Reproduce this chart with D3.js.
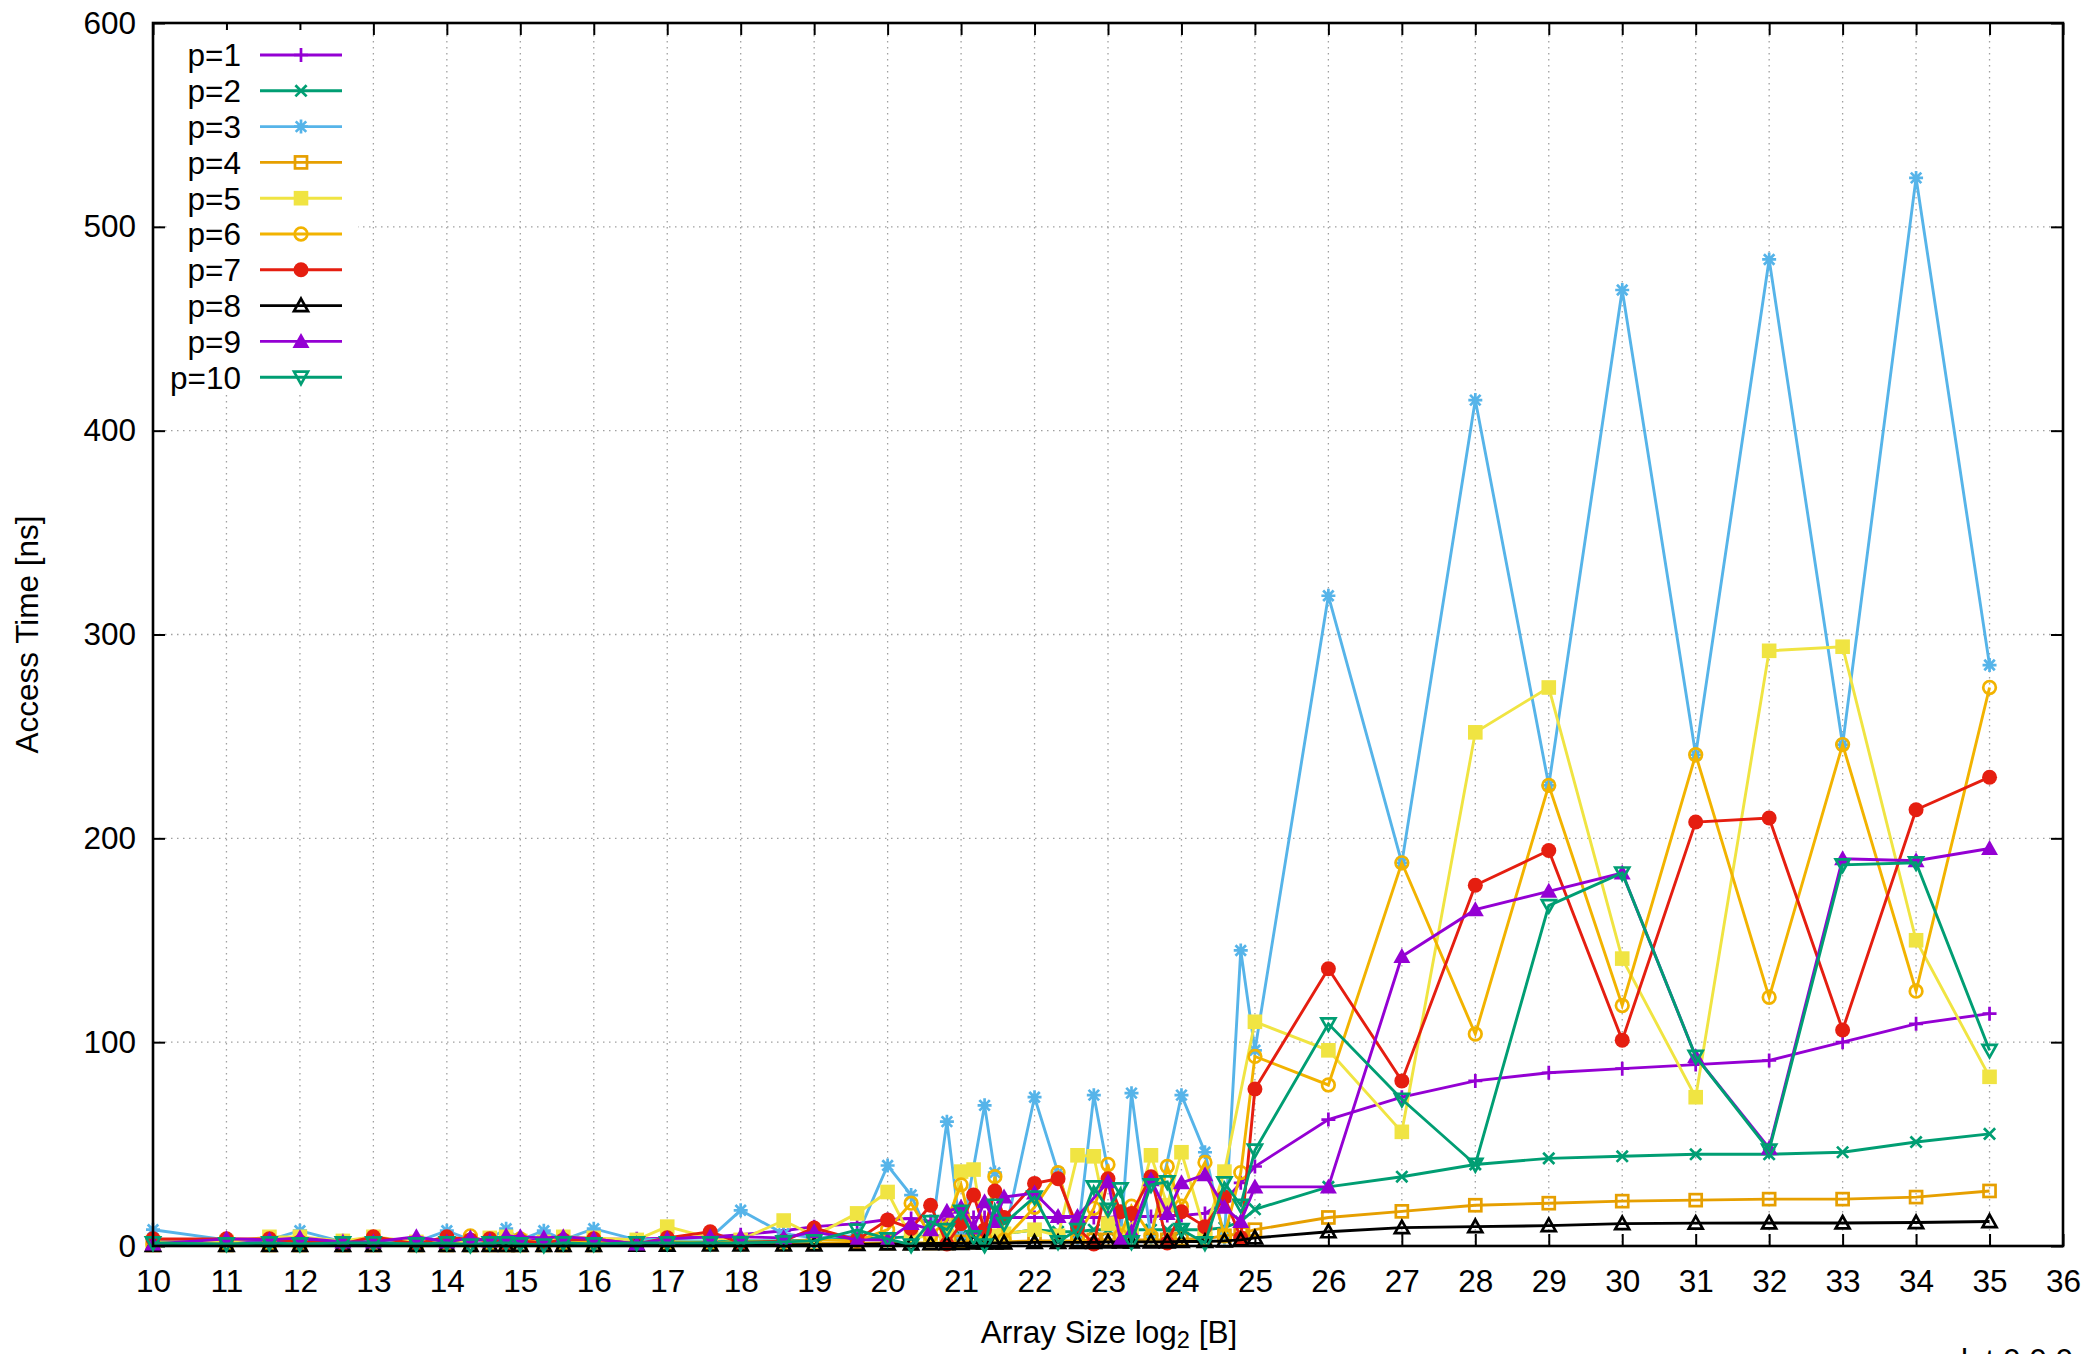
<!DOCTYPE html>
<html>
<head>
<meta charset="utf-8">
<script src="https://cdn.jsdelivr.net/npm/d3@7"></script>
<style>
  html, body { margin: 0; padding: 0; background: #fff; }
  svg { display: block; }
  text { font-family: "Liberation Sans", Arial, sans-serif; fill: #000; }
</style>
</head>
<body>
<svg id="chart" width="2090" height="1354"></svg>
<script>
// ---- Data ----
const xs = [10, 11, 11.585, 12, 12.585, 13, 13.585, 14, 14.32, 14.585, 14.807, 15, 15.32, 15.585, 16, 16.585, 17, 17.585, 18, 18.585, 19, 19.585, 20, 20.32, 20.585, 20.807, 21, 21.17, 21.32, 21.46, 21.585, 22, 22.32, 22.585, 22.807, 23, 23.17, 23.32, 23.585, 23.807, 24, 24.32, 24.585, 24.807, 25, 26, 27, 28, 29, 30, 31, 32, 33, 34, 35];

const seriesNames = ["p=1", "p=2", "p=3", "p=4", "p=5", "p=6", "p=7", "p=8", "p=9", "p=10"];

const p1 = [2.5,2.5,2.5,2.6,2.6,2.7,2.7,2.8,2.8,2.9,2.9,3,3,3,3.2,3.5,3.8,4.5,5.5,7.5,9.5,11,13,13.5,12,13,13.5,14,14,14,14,14,14,14,14,14,14.5,14.5,14.5,15,15,16,22,31,39,62,73,81,85,87,89,91,100,109,114];
const p2 = [1.5,1,1,1,1,1.5,1,1.5,1,1,1.5,1.5,1,1.5,1.5,1.5,2,2,2.5,2.5,3,3.5,4,4.5,5,5,5,5.5,6,6,6,8,7,7,8,8,8,8,8,8,8,8,9,12,18,29,34,40,43,44,45,45,46,51,55];
const p3 = [8,3,3,7.5,2,2.5,2,7.5,3,3.5,8.5,3,7.5,3,8.5,3,3.5,4,17.5,6,4,5,39.5,25,3,61,4,null,69,36,4,73,36,4,74,null,4,75,4,null,74,46,4,145,96,319,188,415,226,469,241,484,246,524,285];
const p4 = [0.5,0.5,0.5,0.5,0.5,0.5,0.5,0.5,0.5,0.5,0.5,0.5,0.5,0.5,0.5,0.8,1,1,1,1,1.2,1.3,1.5,1.5,1.5,1.5,2,2,2,2,2,2.5,2.5,2.5,3,3,3,3,3,3,3.5,3.5,5,6,8,14,17,20,21,22,22.5,23,23,24,27];
const p5 = [2,2,4.5,4.5,2.5,4.5,2,2,2.5,4,4.5,2.5,2,4.5,4,3,9.5,4,3,12.5,5,16,26.5,4,5,5,36.5,37.5,4,5,6,8,5,44.5,44,11,6,8,44.5,20,46,7,36.5,null,110,96,56,252,274,141,73,292,294,150,83];
const p6 = [1,1,1,1.5,1,1.5,1,1,5,1.5,1.5,3.5,1,1.5,2,1,2,1.5,2,2,3,2.5,8,21,5,12.5,30,5,4,34,3,19,36,5,18.5,40,5,19.5,5,39,19.5,41,5,36,93,79,188,104,226,118,241,122,246,125,274];
const p7 = [3.5,3.5,3.5,2,1,4.5,1,4.5,3,3.5,1.5,2.5,1.5,3,3.5,1,4,7,1.5,2.5,8.8,3,12.8,8.6,20,1,11,25,8,27,14,30.7,33,9,1,33,16.8,16,34,1.5,16.8,9.5,24,4,77,136,81,177,194,101,208,210,106,214,230];
const p8 = [0.3,0.3,0.3,0.3,0.3,0.3,0.3,0.3,0.3,0.3,0.3,0.3,0.3,0.3,0.3,0.4,0.4,0.5,0.5,0.5,0.6,0.8,1,1,1.2,1.2,1.3,1.5,1.5,1.5,1.5,1.8,1.8,1.8,1.8,2,2,2,2,2,2.2,2.2,2.5,3,4,7,9,9.5,10,11,11.2,11.3,11.3,11.5,12];
const p9 = [1,3.5,3,4,2,2,4.5,2,4,2.5,5,4.5,4,4.5,3.5,1,3.5,4.5,4.5,4,7,3,3,11,8,17,19,9,21.7,12,24,26,14.5,14.5,null,31.5,2.8,7,32.5,16,31,35,19,12,29,29,142,165,174,183,93,48,190,189,195];
const p10 = [1.5,1,1.5,1,1.5,1.5,1,1.5,0.5,1.5,1.5,1,0.5,1.5,1,1.5,1.5,1.5,1.5,2,2.5,7.8,3.5,0.5,12,8,17,4.5,0.5,20,11,24,2,8,29,18,28,2,30,31.5,8,1.5,31,20,47,109,72,40,167,183,93,47,187,188,96];

const seriesValues = [p1, p2, p3, p4, p5, p6, p7, p8, p9, p10];

const xTicks = d3.range(10, 37, 1);
const yTicks = [0, 100, 200, 300, 400, 500, 600];

// ---- Styles ----
const colors = ["#9400d3", "#009e73", "#56b4e9", "#e69f00", "#f0e442", "#f2b300", "#e51e10", "#000000", "#9400d3", "#009e73"];
const markers = ["plus", "cross", "star", "sqOpen", "sqFill", "circOpen", "circFill", "triUpOpen", "triUpFill", "triDownOpen"];

const L = 153, R = 2063, T = 23, B = 1246;
const FONT = 31.5;

const svg = d3.select("#chart");
const x = d3.scaleLinear().domain([10, 36]).range([L, R]);
const y = d3.scaleLinear().domain([0, 600]).range([B, T]);

// grid
const grid = svg.append("g");
grid.selectAll("line.gx").data(xTicks.filter(t => t > 10 && t < 36)).enter().append("line")
  .attr("x1", d => x(d)).attr("x2", d => x(d)).attr("y1", T).attr("y2", B)
  .attr("stroke", "#a0a0a0").attr("stroke-width", 1.3).attr("stroke-dasharray", "1.5,4.5");
grid.selectAll("line.gy").data(yTicks.filter(t => t > 0 && t < 600)).enter().append("line")
  .attr("x1", L).attr("x2", R).attr("y1", d => y(d)).attr("y2", d => y(d))
  .attr("stroke", "#a0a0a0").attr("stroke-width", 1.3).attr("stroke-dasharray", "1.5,4.5");

// axes with D3 (ticks inward, mirrored)
const tickLen = 12;
const axB = svg.append("g").attr("transform", `translate(0,${B})`)
  .call(d3.axisBottom(x).tickValues(xTicks).tickSize(-tickLen).tickPadding(24).tickFormat(d3.format("d")));
const axT = svg.append("g").attr("transform", `translate(0,${T})`)
  .call(d3.axisTop(x).tickValues(xTicks).tickSize(-tickLen).tickFormat(""));
const axL = svg.append("g").attr("transform", `translate(${L},0)`)
  .call(d3.axisLeft(y).tickValues(yTicks).tickSize(-tickLen).tickPadding(17).tickFormat(d3.format("d")));
const axRt = svg.append("g").attr("transform", `translate(${R},0)`)
  .call(d3.axisRight(y).tickValues(yTicks).tickSize(-tickLen).tickFormat(""));
[axB, axT, axL, axRt].forEach(a => {
  a.select(".domain").remove();
  a.selectAll(".tick line").attr("stroke", "#000").attr("stroke-width", 2);
  a.selectAll(".tick text").attr("font-size", FONT).attr("font-family", "Liberation Sans, Arial, sans-serif").attr("fill", "#000");
});

// marker drawing
function drawMarker(g, type, color) {
  const s = 7, sw = 2.7;
  switch (type) {
    case "plus":
      g.append("path").attr("d", `M${-s},0H${s}M0,${-s}V${s}`).attr("stroke", color).attr("stroke-width", sw).attr("fill", "none"); break;
    case "cross":
      g.append("path").attr("d", `M${-s*0.8},${-s*0.8}L${s*0.8},${s*0.8}M${-s*0.8},${s*0.8}L${s*0.8},${-s*0.8}`).attr("stroke", color).attr("stroke-width", sw).attr("fill", "none"); break;
    case "star":
      g.append("path").attr("d", `M${-s},0H${s}M0,${-s}V${s}M${-s*0.75},${-s*0.75}L${s*0.75},${s*0.75}M${-s*0.75},${s*0.75}L${s*0.75},${-s*0.75}`).attr("stroke", color).attr("stroke-width", sw).attr("fill", "none"); break;
    case "sqOpen":
      g.append("rect").attr("x", -6).attr("y", -6).attr("width", 12).attr("height", 12).attr("stroke", color).attr("stroke-width", sw).attr("fill", "none"); break;
    case "sqFill":
      g.append("rect").attr("x", -7.3).attr("y", -7.3).attr("width", 14.6).attr("height", 14.6).attr("fill", color); break;
    case "circOpen":
      g.append("circle").attr("r", 6.3).attr("stroke", color).attr("stroke-width", sw).attr("fill", "none"); break;
    case "circFill":
      g.append("circle").attr("r", 7.5).attr("fill", color); break;
    case "triUpOpen":
      g.append("path").attr("d", "M0,-7L7,5.5L-7,5.5Z").attr("stroke", color).attr("stroke-width", sw).attr("fill", "none"); break;
    case "triUpFill":
      g.append("path").attr("d", "M0,-8.5L8.5,6.5L-8.5,6.5Z").attr("fill", color); break;
    case "triDownOpen":
      g.append("path").attr("d", "M0,7L7,-5.5L-7,-5.5Z").attr("stroke", color).attr("stroke-width", sw).attr("fill", "none"); break;
  }
}

// series
const line = d3.line().x(d => x(d.x)).y(d => y(d.y));
seriesValues.forEach((vals, i) => {
  const pts = xs.map((xv, j) => ({ x: xv, y: vals[j] })).filter(d => d.y != null);
  const g = svg.append("g");
  g.append("path").datum(pts).attr("d", line).attr("fill", "none")
    .attr("stroke", colors[i]).attr("stroke-width", 2.9).attr("stroke-linejoin", "miter");
  pts.forEach(d => {
    const mg = g.append("g").attr("transform", `translate(${x(d.x)},${y(d.y)})`);
    drawMarker(mg, markers[i], colors[i]);
  });
});

// legend (opaque box without border)
const leg = svg.append("g");
leg.append("rect").attr("x", 168).attr("y", 30).attr("width", 190).attr("height", 362).attr("fill", "#fff");
seriesNames.forEach((name, i) => {
  const cy = 55 + i * 35.8;
  leg.append("text").attr("x", 241).attr("y", cy).attr("dy", "0.36em").attr("text-anchor", "end")
    .attr("font-size", FONT).text(name);
  leg.append("line").attr("x1", 260).attr("x2", 342).attr("y1", cy).attr("y2", cy)
    .attr("stroke", colors[i]).attr("stroke-width", 2.9);
  const mg = leg.append("g").attr("transform", `translate(301,${cy})`);
  drawMarker(mg, markers[i], colors[i]);
});

// frame
svg.append("rect").attr("x", L).attr("y", T).attr("width", R - L).attr("height", B - T)
  .attr("fill", "none").attr("stroke", "#000").attr("stroke-width", 2.6);

// axis labels
svg.append("text").attr("transform", `translate(38,${(T + B) / 2}) rotate(-90)`)
  .attr("text-anchor", "middle").attr("font-size", FONT).text("Access Time [ns]");
const xl = svg.append("text").attr("x", (L + R) / 2 + 1).attr("y", 1343).attr("text-anchor", "middle").attr("font-size", FONT);
xl.append("tspan").text("Array Size log");
xl.append("tspan").attr("font-size", FONT * 0.75).attr("dy", 5).text("2");
xl.append("tspan").attr("dy", -5).text(" [B]");

// footer text (cut off at the bottom edge, as in the original)
svg.append("text").attr("x", 2073).attr("y", 1371).attr("text-anchor", "end").attr("font-size", FONT).text("lat 0.0.0");
</script>
</body>
</html>
